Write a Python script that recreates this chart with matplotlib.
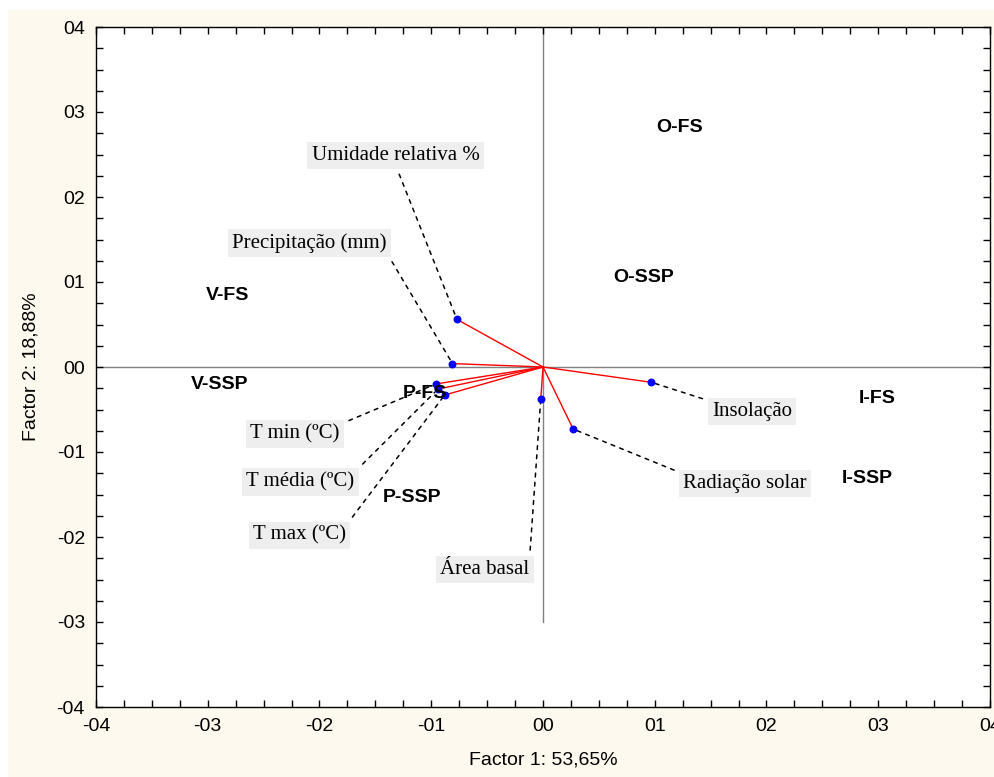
import matplotlib
matplotlib.use("Agg")
import matplotlib.pyplot as plt
from matplotlib.patches import Rectangle
from matplotlib.ticker import MultipleLocator

# Cargas das variáveis (Factor 1, Factor 2)
variaveis = ["Umidade relativa %", "Precipitação (mm)", "T min (ºC)", "T média (ºC)",
             "T max (ºC)", "Área basal", "Insolação", "Radiação solar"]
carga_f1 = [-0.077, -0.081, -0.096, -0.094, -0.088, -0.002, 0.097, 0.027]
carga_f2 = [0.056, 0.004, -0.020, -0.026, -0.033, -0.038, -0.018, -0.073]

# posição dos rótulos das variáveis
rotulo_x = [-0.132, -0.209, -0.222, -0.217, -0.218, -0.052, 0.187, 0.181]
rotulo_y = [0.249, 0.146, -0.079, -0.135, -0.198, -0.238, -0.052, -0.137]
# canto da caixa de onde sai a linha tracejada
canto = [(0.5, 0), (1, 0), (1, 1), (1, 1), (1, 1), (1, 1), (0, 1), (0, 1)]

# casos (estação - tratamento)
casos = ["O-FS", "O-SSP", "V-FS", "V-SSP", "P-FS", "P-SSP", "I-FS", "I-SSP"]
caso_f1 = [0.122, 0.090, -0.282, -0.289, -0.106, -0.117, 0.299, 0.290]
caso_f2 = [0.282, 0.105, 0.084, -0.021, -0.031, -0.153, -0.037, -0.131]

ticks = [-0.4, -0.3, -0.2, -0.1, 0.0, 0.1, 0.2, 0.3, 0.4]
tick_labels = ["-04", "-03", "-02", "-01", "00", "01", "02", "03", "04"]

fonte_eixo = ["Liberation Sans", "DejaVu Sans"]

fig = plt.figure(figsize=(9.95, 7.77), dpi=100)
fig.patch.set_facecolor("white")
# fundo creme
fig.patches.append(Rectangle((8 / 995, 0), 1, 1 - 10 / 777, transform=fig.transFigure,
                             facecolor="#fdf9ee", edgecolor="none", zorder=-10))

ax = fig.add_axes([96 / 995, 1 - 707 / 777, (990 - 96) / 995, (707 - 27) / 777])
ax.set_facecolor("white")
ax.set_xlim(-0.4, 0.4)
ax.set_ylim(-0.4, 0.4)

# linhas de referência
ax.axhline(0, color="#808080", lw=1, zorder=1)
ax.plot([0, 0], [-0.3, 0.4], color="#808080", lw=1, zorder=1)

# vetores das variáveis
for x, y in zip(carga_f1, carga_f2):
    ax.plot([0, x], [0, y], color="red", lw=1, zorder=2)
ax.scatter(carga_f1, carga_f2, s=22, color="#0000ff", zorder=4)

# rótulos das variáveis com linha tracejada
for nome, x, y, lx, ly, rp in zip(variaveis, carga_f1, carga_f2, rotulo_x, rotulo_y, canto):
    ax.annotate(nome, xy=(x, y), xytext=(lx, ly), ha="center", va="center",
                fontsize=15, family=["Liberation Serif", "DejaVu Serif"],
                bbox=dict(boxstyle="square,pad=0.2", facecolor="#eeeeee", edgecolor="none"),
                arrowprops=dict(arrowstyle="-", linestyle=(0, (2.5, 3.5)), color="black",
                                lw=1.1, shrinkA=4, shrinkB=3, relpos=rp),
                zorder=3)

# rótulos dos casos
for nome, x, y in zip(casos, caso_f1, caso_f2):
    ax.text(x, y, nome, ha="center", va="center", fontsize=14, fontweight="bold",
            family=["Liberation Sans", "DejaVu Sans"], zorder=5)

ax.set_xticks(ticks)
ax.set_yticks(ticks)
ax.set_xticklabels(tick_labels, family=fonte_eixo, fontsize=14)
ax.set_yticklabels(tick_labels, family=fonte_eixo, fontsize=14)
ax.xaxis.set_minor_locator(MultipleLocator(0.025))
ax.yaxis.set_minor_locator(MultipleLocator(0.025))
ax.tick_params(which="both", direction="in", top=True, right=True, length=5, width=1)
ax.tick_params(axis="x", pad=8)
ax.tick_params(axis="y", pad=8)

ax.set_xlabel("Factor 1: 53,65%", family=fonte_eixo, fontsize=14, labelpad=12)
ax.set_ylabel("Factor 2: 18,88%", family=fonte_eixo, fontsize=14, labelpad=12)

for s in ax.spines.values():
    s.set_linewidth(1)
    s.set_color("black")

fig.savefig("out.png", dpi=100, facecolor=fig.get_facecolor())
